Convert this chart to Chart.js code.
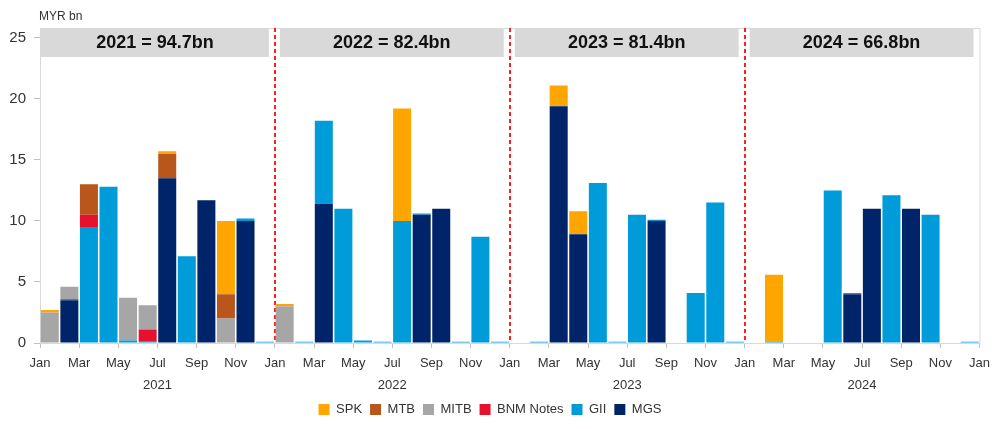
<!DOCTYPE html>
<html>
<head>
<meta charset="utf-8">
<script src="https://cdn.jsdelivr.net/npm/chart.js@4"></script>
<style>
  body { margin: 0; background: #fff; }
  #wrap { width: 995px; height: 429px; }
</style>
</head>
<body>
<div id="wrap"><canvas id="grafico"></canvas></div>
<script>
// month index 0 = Jan 2021 ... 47 = Dec 2024
const years = ['2021', '2022', '2023', '2024'];
const monthTicks = ['Jan', 'Mar', 'May', 'Jul', 'Sep', 'Nov'];
const yTicks = [0, 5, 10, 15, 20, 25];
const headers = ['2021 = 94.7bn', '2022 = 82.4bn', '2023 = 81.4bn', '2024 = 66.8bn'];
const unitLabel = 'MYR bn';

const mgs = [
	0, 3.5, 0, 0, 0, 0, 13.5, 0, 11.7, 0, 10.0, 0,
	0, 0, 11.4, 0, 0, 0, 0, 10.5, 11.0, 0, 0, 0,
	0, 0, 19.4, 8.9, 0, 0, 0, 10.0, 0, 0, 0, 0,
	0, 0, 0, 0, 0, 4.0, 11.0, 0, 11.0, 0, 0, 0
];
const gii = [
	0, 0.1, 9.5, 12.8, 0.2, 0.1, 0, 7.1, 0, 0, 0.2, 0.1,
	0, 0.1, 6.8, 11.0, 0.2, 0.1, 10.0, 0.1, 0, 0.1, 8.7, 0.1,
	0, 0.1, 0, 0, 13.1, 0.1, 10.5, 0.1, 0, 4.1, 11.5, 0.1,
	0, 0.1, 0, 0, 12.5, 0.1, 0, 12.1, 0, 10.5, 0, 0.1
];
const bnm = [
	0, 0, 1.0, 0, 0, 1.0, 0, 0, 0, 0, 0, 0,
	0, 0, 0, 0, 0, 0, 0, 0, 0, 0, 0, 0,
	0, 0, 0, 0, 0, 0, 0, 0, 0, 0, 0, 0,
	0, 0, 0, 0, 0, 0, 0, 0, 0, 0, 0, 0
];
const mitb = [
	2.5, 1.0, 0, 0, 3.5, 2.0, 0, 0, 0, 2.0, 0, 0,
	3.0, 0, 0, 0, 0, 0, 0, 0, 0, 0, 0, 0,
	0, 0, 0, 0, 0, 0, 0, 0, 0, 0, 0, 0,
	0, 0, 0, 0, 0, 0, 0, 0, 0, 0, 0, 0
];
const mtb = [
	0, 0, 2.5, 0, 0, 0, 2.0, 0, 0, 2.0, 0, 0,
	0, 0, 0, 0, 0, 0, 0, 0, 0, 0, 0, 0,
	0, 0, 0, 0, 0, 0, 0, 0, 0, 0, 0, 0,
	0, 0, 0, 0, 0, 0, 0, 0, 0, 0, 0, 0
];
const spk = [
	0.2, 0, 0, 0, 0, 0, 0.2, 0, 0, 6.0, 0, 0,
	0.2, 0, 0, 0, 0, 0, 9.2, 0, 0, 0, 0, 0,
	0, 0, 1.7, 1.9, 0, 0, 0, 0, 0, 0, 0, 0,
	0, 5.5, 0, 0, 0, 0, 0, 0, 0, 0, 0, 0
];

const FONT = "'Liberation Sans', Arial, sans-serif";
const pontos = arr => arr.map((v, i) => ({ x: i + 0.5, y: v }));

const series = [
	{ label: 'MGS', data: mgs, color: '#002469' },
	{ label: 'GII', data: gii, color: '#009CDA' },
	{ label: 'BNM Notes', data: bnm, color: '#E8112D' },
	{ label: 'MITB', data: mitb, color: '#A6A6A6' },
	{ label: 'MTB', data: mtb, color: '#B9561B' },
	{ label: 'SPK', data: spk, color: '#FFA500' }
];

const decor = {
	id: 'decor',
	beforeDatasetsDraw(chart) {
		const { ctx, chartArea: a, scales: { x } } = chart;
		ctx.save();
		ctx.strokeStyle = '#d9d9d9';
		ctx.lineWidth = 1;
		ctx.strokeRect(a.left + 0.5, a.top + 0.5, a.width, a.height);

		headers.forEach((t, i) => {
			const x0 = x.getPixelForValue(i * 12) + (i ? 5 : 1);
			const x1 = x.getPixelForValue(i * 12 + 12) - 6;
			ctx.fillStyle = '#d9d9d9';
			ctx.fillRect(x0, a.top + 1, x1 - x0, 28);
			ctx.fillStyle = '#111';
			ctx.font = 'bold 18px ' + FONT;
			ctx.textAlign = 'center';
			ctx.textBaseline = 'middle';
			ctx.fillText(t, (x0 + x1) / 2, a.top + 15.5);
		});

		ctx.strokeStyle = '#ff2020';
		ctx.lineWidth = 2;
		ctx.setLineDash([4, 3]);
		for (let i = 1; i < years.length; i++) {
			const px = Math.round(x.getPixelForValue(i * 12));
			ctx.beginPath();
			ctx.moveTo(px, a.top);
			ctx.lineTo(px, a.bottom);
			ctx.stroke();
		}
		ctx.setLineDash([]);

		ctx.fillStyle = '#333';
		ctx.font = '12px ' + FONT;
		ctx.textAlign = 'left';
		ctx.textBaseline = 'middle';
		ctx.fillText(unitLabel, a.left - 1, 17);
		ctx.restore();
	}
};

const ctx = document.getElementById('grafico').getContext('2d');
new Chart(ctx, {
	type: 'bar',
	data: {
		datasets: series.map(s => ({
			label: s.label,
			data: pontos(s.data),
			backgroundColor: s.color,
			borderWidth: 0,
			barPercentage: 0.92,
			categoryPercentage: 1
		}))
	},
	options: {
		responsive: true,
		maintainAspectRatio: false,
		animation: false,
		layout: { padding: { top: 28, right: 15, bottom: 3, left: 0 } },
		plugins: {
			tooltip: { enabled: false },
			legend: {
				position: 'bottom',
				reverse: true,
				labels: {
					boxWidth: 11,
					boxHeight: 11,
					padding: 8,
					color: '#333',
					font: { family: FONT, size: 13 }
				}
			}
		},
		scales: {
			x: {
				type: 'linear',
				stacked: true,
				offset: false,
				min: 0,
				max: 48,
				afterFit: s => { s.height = 52; },
				grid: { offset: false, drawOnChartArea: false, tickLength: 5, color: '#bfbfbf' },
				border: { color: '#bfbfbf' },
				ticks: {
					stepSize: 2,
					autoSkip: false,
					maxRotation: 0,
					padding: 5,
					color: '#333',
					font: { family: FONT, size: 13, lineHeight: 1.65 },
					callback: v => {
						const m = monthTicks[(v % 12) / 2];
						if (v % 12 === 6 && v < 48) return [m, years[Math.floor(v / 12)]];
						return m;
					}
				}
			},
			y: {
				stacked: true,
				min: 0,
				max: 25.8,
				afterFit: s => { s.width = 40; },
				afterBuildTicks: s => { s.ticks = yTicks.map(v => ({ value: v })); },
				grid: { drawOnChartArea: false, tickLength: 6, color: '#bfbfbf' },
				border: { color: '#bfbfbf' },
				ticks: {
					padding: 8,
					color: '#333',
					font: { family: FONT, size: 15 }
				}
			}
		}
	},
	plugins: [decor]
});
</script>
</body>
</html>
